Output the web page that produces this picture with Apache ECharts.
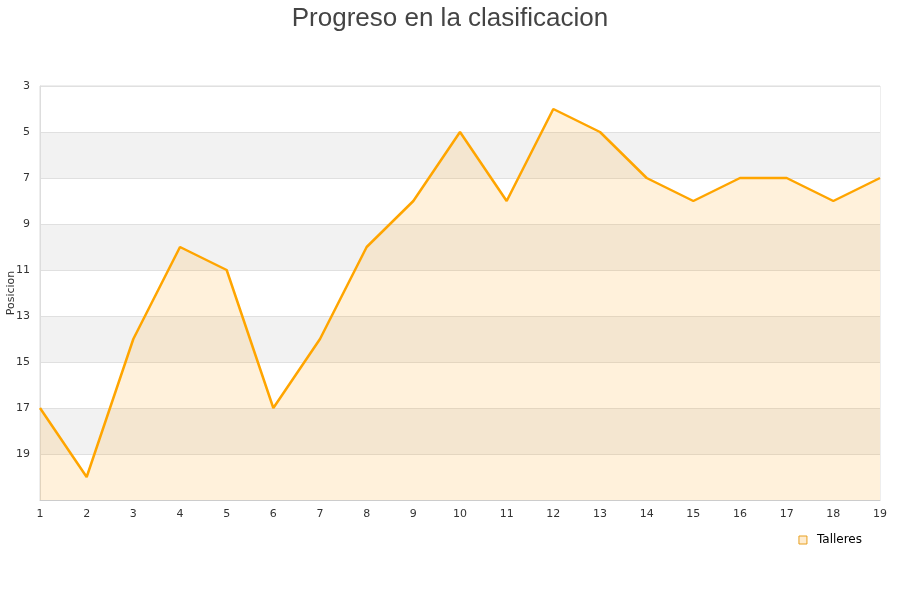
<!DOCTYPE html>
<html>
<head>
<meta charset="utf-8">
<script src="https://cdn.jsdelivr.net/npm/echarts@6/dist/echarts.min.js"></script>
<style>html,body{margin:0;padding:0;background:#fff}#c{width:900px;height:600px}</style>
</head>
<body>
<div id="c"></div>
<script>
var jornadas = ['1','2','3','4','5','6','7','8','9','10','11','12','13','14','15','16','17','18','19'];
var posiciones = [17,20,14,10,11,17,14,10,8,5,8,4,5,7,8,7,7,8,7];
var tituloTexto = 'Progreso en la clasificacion';
var equipo = 'Talleres';
var ejeY = 'Posicion';
// axis is shifted by one so that ticks (every 2) land on odd positions
var OFFSET = 1;

var chart = echarts.init(document.getElementById('c'), null, {renderer:'canvas'});
chart.setOption({
  animation:false,
  backgroundColor:'#fff',
  title:{text:tituloTexto, left:'center', top:1,
    textStyle:{fontFamily:'Liberation Sans', fontSize:26, fontWeight:'normal', color:'#444'}},
  legend:{data:[{name:equipo, icon:'rect', itemStyle:{color:'#FEECD0', borderColor:'#E8A020', borderWidth:1}}],
    right:33, top:529, itemWidth:8, itemHeight:8, itemGap:10,
    textStyle:{fontFamily:'DejaVu Sans', fontSize:12, color:'#000', padding:[0,0,0,5]}},
  grid:{left:40, right:20, top:86, bottom:100, show:true, borderColor:'#ddd', borderWidth:1,
    containLabel:false, outerBoundsMode:'none'},
  xAxis:{type:'category', data:jornadas, boundaryGap:false,
    axisLine:{lineStyle:{color:'#ccc'}}, axisTick:{show:false},
    axisLabel:{color:'#333', fontFamily:'DejaVu Sans', fontSize:11, margin:9},
    splitLine:{show:false}},
  yAxis:{type:'value', inverse:true, min:2, max:20, interval:2,
    name:ejeY, nameLocation:'middle', nameGap:23, nameMoveOverlap:false,
    nameTextStyle:{color:'#333', fontFamily:'DejaVu Sans', fontSize:11},
    axisLine:{show:true, lineStyle:{color:'#ddd'}}, axisTick:{show:false},
    axisLabel:{color:'#333', fontFamily:'DejaVu Sans', fontSize:11, margin:10,
      formatter:function(v){ var p=v+OFFSET; return p>=21?'':String(p); }},
    splitLine:{show:true, lineStyle:{color:'#e0e0e0'}},
    splitArea:{show:true, areaStyle:{color:['#ffffff','#f2f2f2']}}},
  series:[{name:equipo, type:'line', data:posiciones.map(function(p){return p-OFFSET;}),
    symbol:'none', lineStyle:{color:'#FFA500', width:2.5}, itemStyle:{color:'#FFA500'},
    areaStyle:{color:'rgba(255,165,20,0.22)', origin:'end'}}]
});
</script>
</body>
</html>
